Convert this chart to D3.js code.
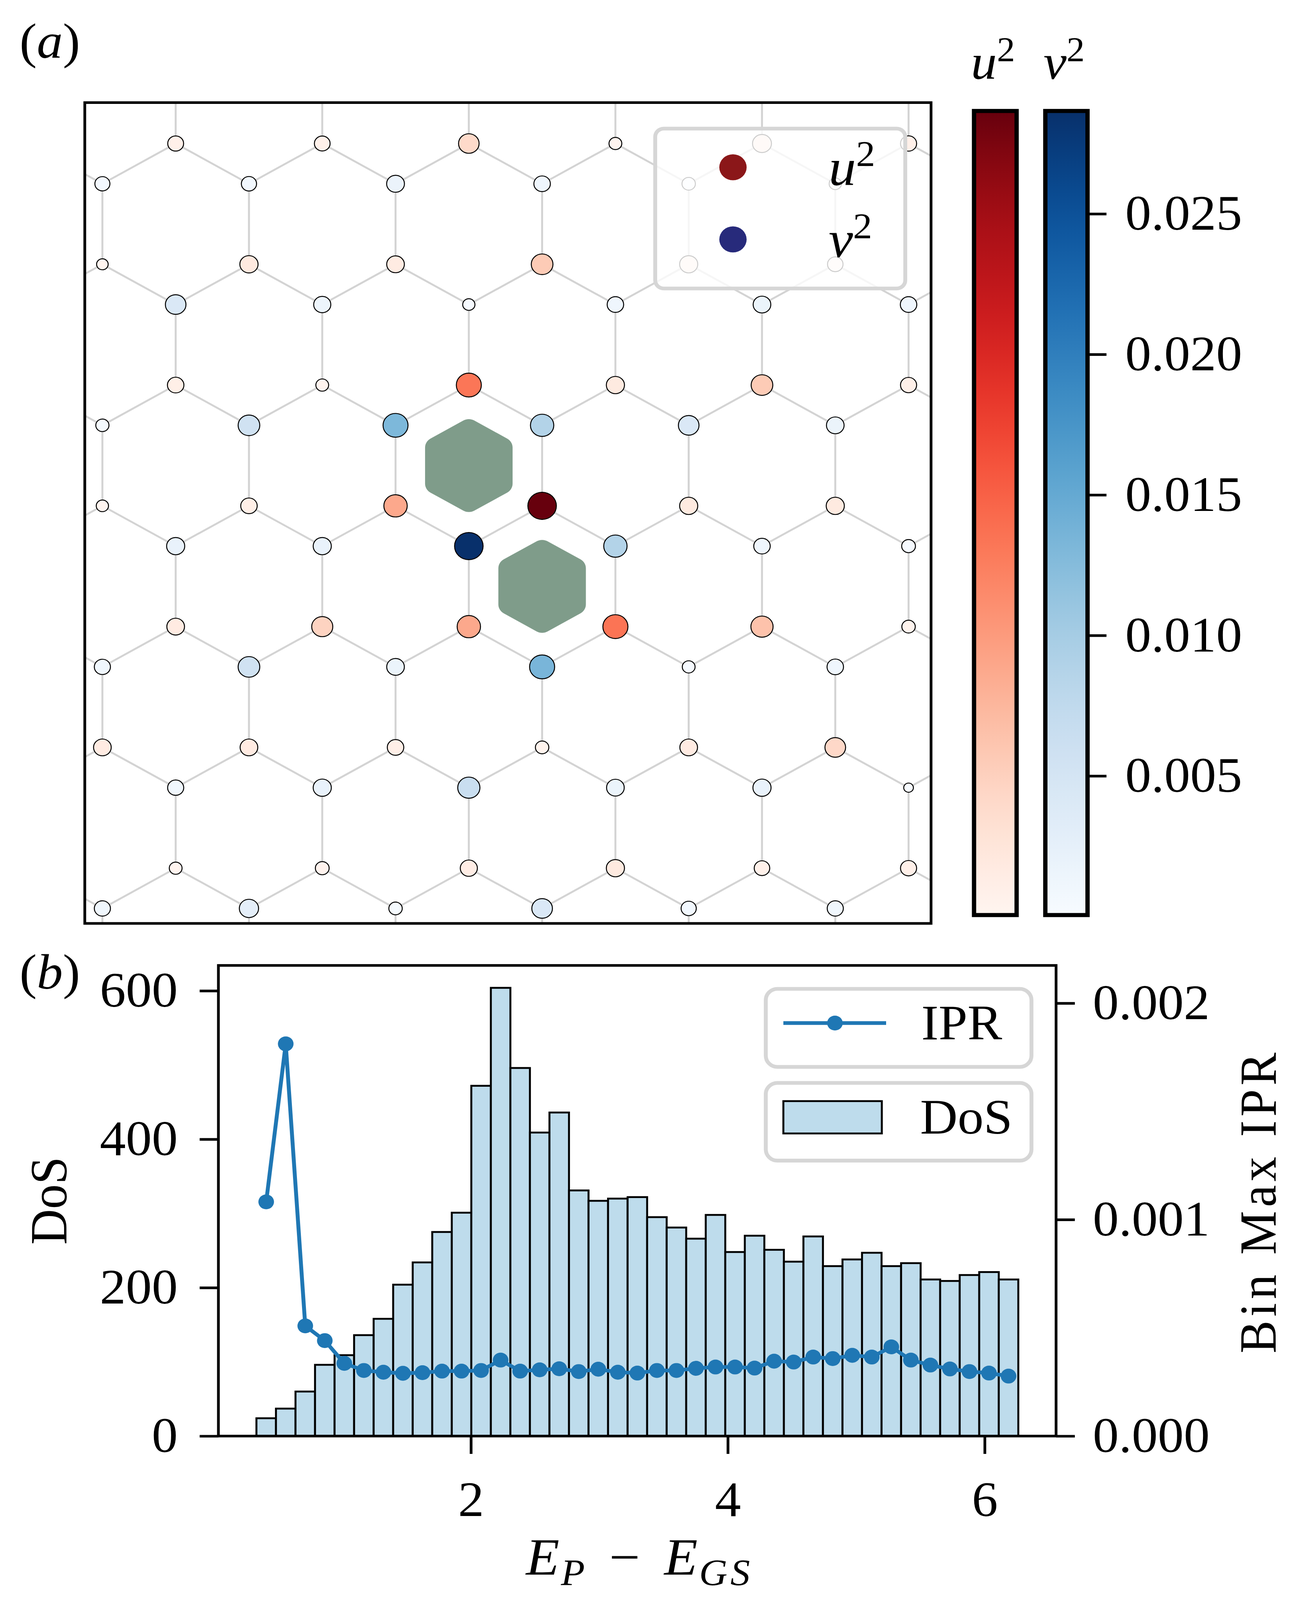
<!DOCTYPE html>
<html>
<head>
<meta charset="utf-8">
<script src="https://cdnjs.cloudflare.com/ajax/libs/d3/7.8.5/d3.min.js"></script>
<style>
  html, body { margin: 0; padding: 0; background: #fff; overflow: hidden; }
  #fig { display: block; width: 100vw; height: 100vh; }
  text { font-family: 'Liberation Serif', serif; fill: #000; }
</style>
</head>
<body>
<svg id="fig" viewBox="0 0 3335 4304" preserveAspectRatio="none"></svg>
<script>
// (a) site weights, one line per row of sites from top to bottom, left to right
// u^2 sits on the lower end of each vertical bond, v^2 on the upper end
var u2Rows = [
  [0.00096, 0.00090, 0.00435, 0.00027, 0.00270, 0.00105],
  [0.00015, 0.00216, 0.00180, 0.00600, 0.00210, 0.00084],
  [0.00120, 0.00027, 0.01395, 0.00210, 0.00600, 0.00105],
  [0.00021, 0.00120, 0.00930, 0.03000, 0.00210, 0.00210],
  [0.00180, 0.00510, 0.00930, 0.01410, 0.00690, 0.00036],
  [0.00180, 0.00180, 0.00120, 0.00036, 0.00180, 0.00450],
  [0.00027, 0.00042, 0.00150, 0.00210, 0.00084, 0.00105]
];
var v2Rows = [
  [0.00066, 0.00071, 0.00180, 0.00114, 0.00034, 0.00020],
  [0.00422, 0.00143, 0.00020, 0.00114, 0.00171, 0.00114],
  [0.00031, 0.00570, 0.01310, 0.00884, 0.00428, 0.00171],
  [0.00200, 0.00200, 0.02866, 0.00884, 0.00114, 0.00040],
  [0.00100, 0.00570, 0.00171, 0.01340, 0.00026, 0.00114],
  [0.00100, 0.00200, 0.00656, 0.00171, 0.00200, 0.00005],
  [0.00100, 0.00285, 0.00034, 0.00428, 0.00071, 0.00100]
];
// plaquettes holding the two vortices: column of the top site, centre height (bond lengths)
var vortices = [{col: 5, y: 4.0}, {col: 6, y: 5.5}];
var cbTicks = [0.005, 0.010, 0.015, 0.020, 0.025];

// (b) histogram of excitation energies
var binLo = 0.33, binWidth = 0.1521;
var dosCounts = [24, 37, 60, 96, 109, 136, 158, 204, 234, 275, 301, 472, 604, 496, 409, 436,
  331, 317, 320, 322, 295, 281, 266, 298, 248, 270, 251, 235, 269, 229, 238, 247, 229, 233,
  211, 209, 217, 221, 211];
var iprMax = [1.082, 1.812, 0.509, 0.441, 0.336, 0.303, 0.295, 0.290, 0.293, 0.300, 0.300,
  0.303, 0.351, 0.300, 0.306, 0.311, 0.298, 0.309, 0.295, 0.291, 0.303, 0.303, 0.313, 0.319,
  0.319, 0.314, 0.346, 0.342, 0.365, 0.358, 0.373, 0.365, 0.412, 0.351, 0.328, 0.310, 0.298,
  0.291, 0.277].map(function(d) { return d * 1e-3; });
var energyTicks = [2, 4, 6];
var dosTicks = [0, 200, 400, 600];
var iprTicks = [0, 0.001, 0.002];

var FS = 133;
var SQ3 = Math.sqrt(3) / 2;

var chart = {
  svg: d3.select('#fig'),
  init: function() {
    this.defs = this.svg.append('defs');
    this.drawLattice();
    this.drawColorbars();
    this.drawHistogram();
    this.panelLabel('a', 50, 156);
    this.panelLabel('b', 50, 2660);
  },
  panelLabel: function(letter, x, y) {
    var t = this.svg.append('text').attr('x', x).attr('y', y).attr('font-size', FS);
    t.append('tspan').text('(');
    t.append('tspan').attr('font-style', 'italic').text(letter);
    t.append('tspan').text(')');
  },
  styleAxis: function(g) {
    g.select('.domain').remove();
    g.selectAll('.tick line').attr('stroke', '#000').attr('stroke-width', 7);
    g.selectAll('.tick text').attr('font-family', 'Liberation Serif').attr('font-size', FS).attr('fill', '#000');
  },
  drawLattice: function() {
    var svg = this.svg;
    var x = d3.scaleLinear().domain([-0.208, 9.792]).range([217, 2383]);
    var y = d3.scaleLinear().domain([-0.508, 9.686]).range([276, 2484]);

    this.defs.append('clipPath').attr('id', 'clipA')
      .append('rect').attr('x', 217).attr('y', 276).attr('width', 2166).attr('height', 2208);

    // honeycomb geometry, a bit wider than the frame so edge bonds run out of view
    var sites = [];
    for (var k = -1; k <= 7; k++) {
      var p = ((k % 2) + 2) % 2;
      for (var c = -1; c <= 12; c++) {
        var pc = ((c % 2) + 2) % 2;
        if (pc === (p + 1) % 2) sites.push([c * SQ3, 1.5 * k]);
        if (pc === p) sites.push([c * SQ3, 1.5 * k + 0.5]);
      }
    }
    var bonds = [];
    for (var i = 0; i < sites.length; i++) {
      for (var j = i + 1; j < sites.length; j++) {
        var d = Math.hypot(sites[i][0] - sites[j][0], sites[i][1] - sites[j][1]);
        if (Math.abs(d - 1) < 0.01) bonds.push([sites[i], sites[j]]);
      }
    }

    var nodes = [];
    u2Rows.forEach(function(row, i) {
      row.forEach(function(val, j) {
        nodes.push({x: (2 * j + (i + 1) % 2) * SQ3, y: 1.5 * i, val: val, kind: 'u'});
      });
    });
    v2Rows.forEach(function(row, i) {
      row.forEach(function(val, j) {
        nodes.push({x: (2 * j + i % 2) * SQ3, y: 1.5 * i + 0.5, val: val, kind: 'v'});
      });
    });

    var uAll = d3.merge(u2Rows), vAll = d3.merge(v2Rows);
    this.uColor = d3.scaleSequential(d3.interpolateReds).domain(d3.extent(uAll));
    this.vColor = d3.scaleSequential(d3.interpolateBlues).domain(d3.extent(vAll));
    var uSize = d3.scalePow().exponent(0.17).domain([0, d3.max(uAll)]).range([0, 36.5]);
    var vSize = d3.scalePow().exponent(0.17).domain([0, d3.max(vAll)]).range([0, 36.5]);
    var self = this;

    var g = svg.append('g').attr('clip-path', 'url(#clipA)');
    g.selectAll('line.bond').data(bonds).enter().append('line')
      .attr('x1', function(b) { return x(b[0][0]); })
      .attr('y1', function(b) { return y(b[0][1]); })
      .attr('x2', function(b) { return x(b[1][0]); })
      .attr('y2', function(b) { return y(b[1][1]); })
      .attr('stroke', '#d3d3d3').attr('stroke-width', 5);

    g.selectAll('path.vortex').data(vortices).enter().append('path')
      .attr('d', function(v) {
        var cx = x(v.col * SQ3), cy = y(v.y);
        var pts = d3.range(6).map(function(k) {
          var a = Math.PI / 2 + k * Math.PI / 3;
          return [cx + 97 * Math.cos(a), cy - 97 * Math.sin(a)];
        });
        return 'M' + pts.join('L') + 'Z';
      })
      .attr('fill', '#7f9c8a').attr('stroke', '#7f9c8a')
      .attr('stroke-width', 56).attr('stroke-linejoin', 'round');

    g.selectAll('circle.site').data(nodes).enter().append('circle')
      .attr('cx', function(n) { return x(n.x); })
      .attr('cy', function(n) { return y(n.y); })
      .attr('r', function(n) { return n.kind === 'u' ? uSize(n.val) : vSize(n.val); })
      .attr('fill', function(n) { return n.kind === 'u' ? self.uColor(n.val) : self.vColor(n.val); })
      .attr('stroke', '#000').attr('stroke-width', 2.5);

    // legend
    svg.append('rect').attr('x', 1677).attr('y', 346).attr('width', 640).attr('height', 430)
      .attr('rx', 22).attr('fill', '#fff').attr('fill-opacity', 0.8)
      .attr('stroke', '#d6d6d6').attr('stroke-width', 10);
    [['u', '#8b1719', 450], ['v', '#272a7b', 644]].forEach(function(e) {
      svg.append('circle').attr('cx', 1876).attr('cy', e[2]).attr('r', 35).attr('fill', e[1]);
      self.mathSq(e[0], 2121, e[2] + 47, 'start', 140);
    });

    svg.append('rect').attr('x', 217).attr('y', 276).attr('width', 2166).attr('height', 2208)
      .attr('fill', 'none').attr('stroke', '#000').attr('stroke-width', 7);
  },
  mathSq: function(sym, x, y, anchor, size) {
    var t = this.svg.append('text').attr('x', x).attr('y', y)
      .attr('font-size', size).attr('text-anchor', anchor);
    t.append('tspan').attr('font-style', 'italic').text(sym);
    t.append('tspan').attr('dy', -size * 0.36).attr('font-size', size * 0.7).text('2');
  },
  drawColorbars: function() {
    var self = this;
    var bars = [
      {id: 'gradU', interp: d3.interpolateReds, x: 2493, w: 109, sym: 'u'},
      {id: 'gradV', interp: d3.interpolateBlues, x: 2675.5, w: 108, sym: 'v'}
    ];
    var top = 298.5, bottom = 2461.5;
    bars.forEach(function(b) {
      var grad = self.defs.append('linearGradient').attr('id', b.id)
        .attr('x1', 0).attr('y1', 1).attr('x2', 0).attr('y2', 0);
      grad.selectAll('stop').data(d3.range(0, 1.0001, 0.05)).enter().append('stop')
        .attr('offset', function(t) { return t; })
        .attr('stop-color', function(t) { return b.interp(t); });
      self.svg.append('rect').attr('x', b.x).attr('y', top).attr('width', b.w)
        .attr('height', bottom - top).attr('fill', 'url(#' + b.id + ')')
        .attr('stroke', '#000').attr('stroke-width', 11);
      self.mathSq(b.sym, b.x + b.w / 2 - 6, 212, 'middle', FS);
    });

    var cy = d3.scaleLinear().domain(this.vColor.domain()).range([bottom, top]);
    this.svg.append('g').attr('transform', 'translate(2789,0)')
      .call(d3.axisRight(cy).tickValues(cbTicks).tickSize(43).tickPadding(48).tickFormat(d3.format('.3f')))
      .call(this.styleAxis);
  },
  drawHistogram: function() {
    var svg = this.svg;
    var L = 559, R = 2703, T = 2597, B = 3863;
    var edges = d3.range(dosCounts.length + 1).map(function(i) { return binLo + i * binWidth; });
    var x = d3.scaleLinear().domain([0.034, 6.556]).range([L, R]);
    var yL = d3.scaleLinear().domain([0, d3.max(dosCounts) * 1.05]).range([B, T]);
    var yR = d3.scaleLinear().domain([0, d3.max(iprMax) * 1.2]).range([B, T]);

    svg.selectAll('rect.bin').data(dosCounts).enter().append('rect')
      .attr('x', function(d, i) { return x(edges[i]); })
      .attr('width', function(d, i) { return x(edges[i + 1]) - x(edges[i]); })
      .attr('y', function(d) { return yL(d); })
      .attr('height', function(d) { return B - yL(d); })
      .attr('fill', '#bedcec').attr('stroke', '#000').attr('stroke-width', 5);

    var pts = iprMax.map(function(v, i) { return [x((edges[i] + edges[i + 1]) / 2), yR(v)]; });
    svg.append('path').attr('d', d3.line()(pts)).attr('fill', 'none')
      .attr('stroke', '#1f77b4').attr('stroke-width', 10).attr('stroke-linejoin', 'round');
    svg.selectAll('circle.ipr').data(pts).enter().append('circle')
      .attr('cx', function(p) { return p[0]; }).attr('cy', function(p) { return p[1]; })
      .attr('r', 20).attr('fill', '#1f77b4');

    svg.append('rect').attr('x', L).attr('y', T).attr('width', R - L).attr('height', B - T)
      .attr('fill', 'none').attr('stroke', '#000').attr('stroke-width', 7);

    svg.append('g').attr('transform', 'translate(0,' + B + ')')
      .call(d3.axisBottom(x).tickValues(energyTicks).tickSize(48).tickPadding(73).tickFormat(d3.format('d')))
      .call(this.styleAxis);
    svg.append('g').attr('transform', 'translate(' + L + ',0)')
      .call(d3.axisLeft(yL).tickValues(dosTicks).tickSize(48).tickPadding(56).tickFormat(d3.format('d')))
      .call(this.styleAxis);
    svg.append('g').attr('transform', 'translate(' + R + ',0)')
      .call(d3.axisRight(yR).tickValues(iprTicks).tickSize(48).tickPadding(46).tickFormat(d3.format('.3f')))
      .call(this.styleAxis);

    // axis labels
    var xl = svg.append('text').attr('x', 1637).attr('y', 4236).attr('font-size', 140)
      .attr('text-anchor', 'middle');
    xl.append('tspan').attr('font-style', 'italic').text('E');
    xl.append('tspan').attr('font-style', 'italic').attr('font-size', 100).attr('dx', 4).attr('dy', 28).text('P');
    xl.append('tspan').attr('dx', 62).attr('dy', -28).text('\u2212');
    xl.append('tspan').attr('font-style', 'italic').attr('dx', 62).text('E');
    xl.append('tspan').attr('font-style', 'italic').attr('font-size', 100).attr('dx', 4).attr('dy', 28)
      .attr('letter-spacing', 8).text('GS');
    svg.append('text').attr('transform', 'translate(170,3230) rotate(-90)')
      .attr('font-size', FS).attr('text-anchor', 'middle').text('DoS');
    svg.append('text').attr('transform', 'translate(3265,3231) rotate(-90)')
      .attr('font-size', FS).attr('letter-spacing', 10).attr('text-anchor', 'middle').text('Bin Max IPR');

    // legends
    [[2660, 2870], [2913, 3122]].forEach(function(b) {
      svg.append('rect').attr('x', 1960).attr('y', b[0]).attr('width', 680).attr('height', b[1] - b[0])
        .attr('rx', 30).attr('fill', '#fff').attr('fill-opacity', 0.8)
        .attr('stroke', '#d6d6d6').attr('stroke-width', 10);
    });
    svg.append('line').attr('x1', 2005).attr('x2', 2268).attr('y1', 2752).attr('y2', 2752)
      .attr('stroke', '#1f77b4').attr('stroke-width', 10);
    svg.append('circle').attr('cx', 2137).attr('cy', 2752).attr('r', 20).attr('fill', '#1f77b4');
    svg.append('text').attr('x', 2358).attr('y', 2796).attr('font-size', FS).text('IPR');
    svg.append('rect').attr('x', 2005).attr('y', 2962).attr('width', 252).attr('height', 87)
      .attr('fill', '#bedcec').attr('stroke', '#000').attr('stroke-width', 5);
    svg.append('text').attr('x', 2355).attr('y', 3049).attr('font-size', FS).text('DoS');
  }
};

chart.init();
</script>
</body>
</html>
